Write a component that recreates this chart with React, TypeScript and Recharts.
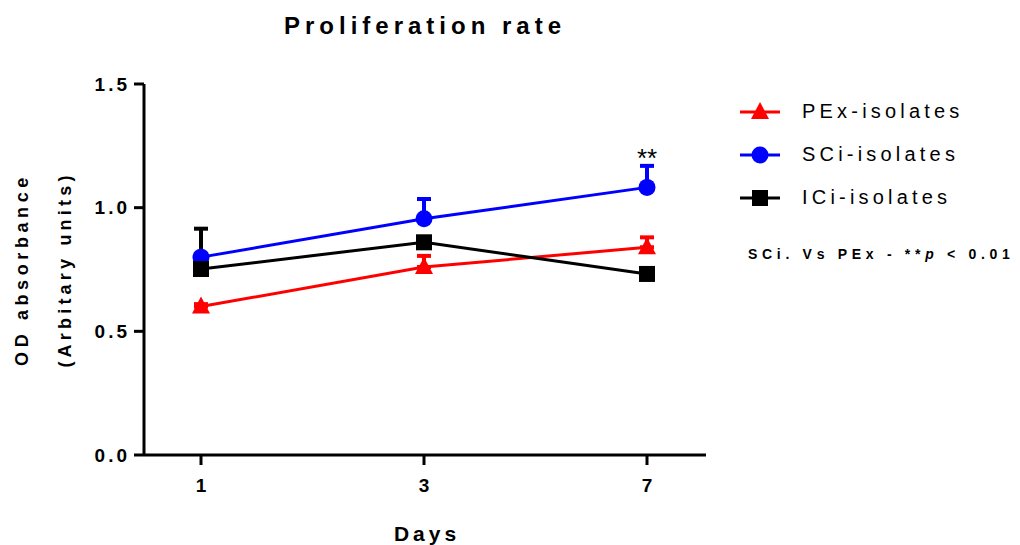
import {
  LineChart,
  Line,
  XAxis,
  YAxis,
  ErrorBar,
  ReferenceDot
} from 'recharts'

const days = ['1', '3', '7']
const pexMean = [0.6, 0.76, 0.84]
const pexErr = [0.01, 0.045, 0.04]
const sciMean = [0.8, 0.955, 1.082]
const sciErr = [0.01, 0.08, 0.087]
const iciMean = [0.752, 0.86, 0.732]
const iciErr = [0.163, 0.01, 0.015]
const yTicks = [0, 0.5, 1.0, 1.5]

const FONT = '"Liberation Sans", Arial, sans-serif'

const data = days.map((d, i) => ({
  day: d,
  pex: pexMean[i],
  pexE: [0, pexErr[i]],
  sci: sciMean[i],
  sciE: [0, sciErr[i]],
  ici: iciMean[i],
  iciE: [0, iciErr[i]]
}))

const Triangle = ({ cx, cy, fill }: any) => (
  <polygon
    points={`${cx},${cy - 10} ${cx + 9},${cy + 7} ${cx - 9},${cy + 7}`}
    fill={fill}
  />
)
const Circle = ({ cx, cy, fill }: any) => <circle cx={cx} cy={cy} r={8.5} fill={fill} />
const Square = ({ cx, cy, fill }: any) => (
  <rect x={cx - 8} y={cy - 8} width={16} height={16} fill={fill} />
)

const series = [
  { key: 'pex', name: 'PEx-isolates', color: '#ff0000', Marker: Triangle },
  { key: 'sci', name: 'SCi-isolates', color: '#0000ff', Marker: Circle },
  { key: 'ici', name: 'ICi-isolates', color: '#000000', Marker: Square }
]

const YLabel = ({ viewBox }: any) => {
  const cy = viewBox.y + viewBox.height / 2
  return (
    <g fontFamily={FONT} fontWeight="bold" fontSize={18} fill="#000">
      <text transform={`translate(28, ${cy}) rotate(-90)`} textAnchor="middle" letterSpacing={4.6}>
        OD absorbance
      </text>
      <text transform={`translate(71, ${cy}) rotate(-90)`} textAnchor="middle" letterSpacing={4.2}>
        (Arbitary units)
      </text>
    </g>
  )
}

const DaysLabel = ({ viewBox }: any) => (
  <text
    x={viewBox.x + viewBox.width / 2 + 2}
    y={541}
    textAnchor="middle"
    fontFamily={FONT}
    fontWeight="bold"
    fontSize={21}
    letterSpacing={4}
    fill="#000"
  >
    Days
  </text>
)

const LegendBox = () => (
  <div style={{ position: 'absolute', left: 738, top: 90, width: 282, fontFamily: FONT }}>
    {series.map((s) => (
      <div key={s.key} style={{ display: 'flex', alignItems: 'center', height: 43 }}>
        <svg width={44} height={20}>
          <line x1={2} x2={42} y1={10} y2={10} stroke={s.color} strokeWidth={3} />
          <s.Marker cx={22} cy={10} fill={s.color} />
        </svg>
        <span style={{ marginLeft: 20, fontSize: 20, letterSpacing: 4.2, color: '#000' }}>
          {s.name}
        </span>
      </div>
    ))}
    <div
      style={{
        marginTop: 27,
        marginLeft: 10,
        fontSize: 14,
        fontWeight: 'bold',
        letterSpacing: 4.7,
        color: '#000',
        whiteSpace: 'nowrap'
      }}
    >
      SCi. Vs PEx - **<i>p</i> &lt; 0.01
    </div>
  </div>
)

export default function App() {
  return (
    <div style={{ position: 'absolute', left: 0, top: 0, width: 1020, height: 545, background: '#fff' }}>
      <div
        style={{
          position: 'absolute',
          left: 0,
          top: 12,
          width: 850,
          textAlign: 'center',
          fontFamily: FONT,
          fontWeight: 'bold',
          fontSize: 24,
          letterSpacing: 5
        }}
      >
        Proliferation rate
      </div>
      <LineChart
        width={1020}
        height={545}
        data={data}
        margin={{ top: 84, right: 314, bottom: 0, left: 0 }}
      >
        <XAxis
          dataKey="day"
          padding={{ left: 57, right: 59 }}
          axisLine={{ stroke: '#000', strokeWidth: 3 }}
          tickLine={{ stroke: '#000', strokeWidth: 3 }}
          tickSize={10}
          height={90}
          tick={{ fill: '#000', fontSize: 19, fontWeight: 'bold', fontFamily: FONT, dy: 12 }}
          label={<DaysLabel />}
        />
        <YAxis
          width={144}
          domain={[0, 1.5]}
          ticks={yTicks}
          tickFormatter={(v: number) => v.toFixed(1)}
          axisLine={{ stroke: '#000', strokeWidth: 3 }}
          tickLine={{ stroke: '#000', strokeWidth: 3 }}
          tickSize={10}
          tick={{ fill: '#000', fontSize: 19, fontWeight: 'bold', fontFamily: FONT, letterSpacing: 3, dx: -2 }}
          label={<YLabel />}
        />
        {series.map((s) => (
          <Line
            key={s.key}
            dataKey={s.key}
            name={s.name}
            stroke={s.color}
            strokeWidth={3}
            dot={false}
            activeDot={false}
            isAnimationActive={false}
          >
            <ErrorBar
              dataKey={`${s.key}E`}
              width={7}
              stroke={s.color}
              strokeWidth={4}
              direction="y"
              isAnimationActive={false}
            />
          </Line>
        ))}
        {series.map((s) => (
          <Line
            key={`${s.key}-markers`}
            dataKey={s.key}
            stroke="none"
            legendType="none"
            dot={(p: any) => <s.Marker key={`${s.key}-${p.index}`} cx={p.cx} cy={p.cy} fill={s.color} />}
            activeDot={false}
            isAnimationActive={false}
          />
        ))}
        <ReferenceDot
          x="7"
          y={sciMean[2] + sciErr[2]}
          r={0}
          stroke="none"
          label={{ value: '**', position: 'top', fill: '#000', fontSize: 26, fontFamily: FONT, offset: -1 }}
        />
      </LineChart>
      <LegendBox />
    </div>
  )
}
